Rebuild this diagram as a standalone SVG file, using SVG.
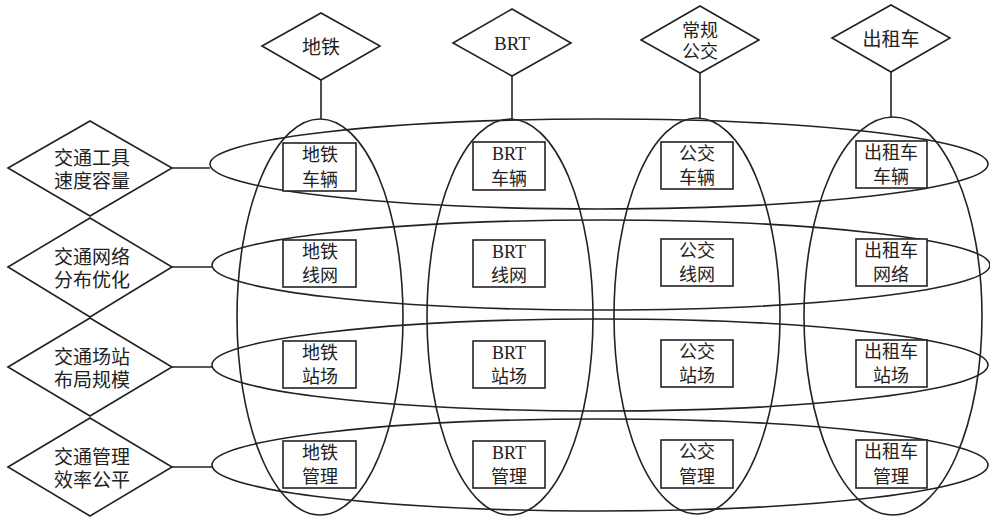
<svg xmlns="http://www.w3.org/2000/svg" width="990" height="518" viewBox="0 0 990 518">
<style>
.s{fill:none;stroke:#222;stroke-width:1.6}
.n{fill:#fff;stroke:#222;stroke-width:1.6}
text{font-family:"Liberation Serif","Noto Sans CJK SC",serif;fill:#222;text-anchor:middle;dominant-baseline:central}
.t{font-size:19px}
.b{font-size:18px}
</style>
<rect width="990" height="518" fill="#fff"/>
<g id="groups">
<ellipse class="s" cx="320" cy="317" rx="83" ry="198"/>
<ellipse class="s" cx="510" cy="317" rx="83" ry="198"/>
<ellipse class="s" cx="697" cy="316" rx="83" ry="198"/>
<ellipse class="s" cx="893" cy="316" rx="89" ry="199"/>
<ellipse class="s" cx="599" cy="164" rx="389" ry="45"/>
<ellipse class="s" cx="601" cy="265" rx="389" ry="45"/>
<ellipse class="s" cx="600" cy="365" rx="388" ry="46"/>
<ellipse class="s" cx="600" cy="465" rx="388" ry="46"/>
</g>
<g id="connectors">
<line class="s" x1="321" y1="80" x2="321" y2="119"/>
<line class="s" x1="512" y1="76" x2="512" y2="119"/>
<line class="s" x1="700" y1="73" x2="700" y2="118"/>
<line class="s" x1="891" y1="72" x2="891" y2="117"/>
<line class="s" x1="172" y1="168" x2="210" y2="168"/>
<line class="s" x1="172" y1="267" x2="212" y2="267"/>
<line class="s" x1="172" y1="367" x2="212" y2="367"/>
<line class="s" x1="172" y1="467" x2="212" y2="467"/>
</g>
<g id="top-subway"><polygon class="n" points="262,46 321,13 380,46 321,80"/><text class="t" x="321" y="47">地铁</text></g>
<g id="top-brt"><polygon class="n" points="453,43 512,9 571,43 512,76"/><text class="t" x="512" y="43">BRT</text></g>
<g id="top-bus"><polygon class="n" points="641,40 700,6 759,40 700,73"/><text class="b" x="700" y="31">常规</text><text class="b" x="700" y="52">公交</text></g>
<g id="top-taxi"><polygon class="n" points="832,38 891,5 950,38 891,72"/><text class="t" x="891" y="39">出租车</text></g>
<g id="left-vehicle"><polygon class="n" points="8,168 90,121 172,168 90,216"/><text class="t" x="92" y="158">交通工具</text><text class="t" x="92" y="181">速度容量</text></g>
<g id="left-network"><polygon class="n" points="8,267 90,218 172,267 90,317"/><text class="t" x="92" y="257">交通网络</text><text class="t" x="92" y="280">分布优化</text></g>
<g id="left-station"><polygon class="n" points="8,367 90,318 172,367 90,416"/><text class="t" x="92" y="357">交通场站</text><text class="t" x="92" y="380">布局规模</text></g>
<g id="left-manage"><polygon class="n" points="8,467 90,418 172,467 90,516"/><text class="t" x="92" y="457">交通管理</text><text class="t" x="92" y="480">效率公平</text></g>
<g id="subway-vehicle"><rect class="n" x="283" y="143" width="73" height="48"/><text class="b" x="320" y="155">地铁</text><text class="b" x="320" y="180">车辆</text></g>
<g id="subway-network"><rect class="n" x="283" y="240" width="73" height="47"/><text class="b" x="320" y="252">地铁</text><text class="b" x="320" y="276">线网</text></g>
<g id="subway-station"><rect class="n" x="283" y="341" width="73" height="47"/><text class="b" x="320" y="353">地铁</text><text class="b" x="320" y="377">站场</text></g>
<g id="subway-manage"><rect class="n" x="283" y="441" width="73" height="47"/><text class="b" x="320" y="453">地铁</text><text class="b" x="320" y="477">管理</text></g>
<g id="brt-vehicle"><rect class="n" x="473" y="142" width="72" height="48"/><text class="b" x="509" y="154">BRT</text><text class="b" x="509" y="179">车辆</text></g>
<g id="brt-network"><rect class="n" x="473" y="240" width="72" height="47"/><text class="b" x="509" y="252">BRT</text><text class="b" x="509" y="276">线网</text></g>
<g id="brt-station"><rect class="n" x="473" y="341" width="72" height="47"/><text class="b" x="509" y="353">BRT</text><text class="b" x="509" y="377">站场</text></g>
<g id="brt-manage"><rect class="n" x="473" y="441" width="72" height="47"/><text class="b" x="509" y="453">BRT</text><text class="b" x="509" y="477">管理</text></g>
<g id="bus-vehicle"><rect class="n" x="661" y="142" width="72" height="47"/><text class="b" x="697" y="154">公交</text><text class="b" x="697" y="178">车辆</text></g>
<g id="bus-network"><rect class="n" x="661" y="239" width="72" height="47"/><text class="b" x="697" y="251">公交</text><text class="b" x="697" y="275">线网</text></g>
<g id="bus-station"><rect class="n" x="661" y="340" width="72" height="47"/><text class="b" x="697" y="352">公交</text><text class="b" x="697" y="376">站场</text></g>
<g id="bus-manage"><rect class="n" x="661" y="440" width="72" height="48"/><text class="b" x="697" y="452">公交</text><text class="b" x="697" y="477">管理</text></g>
<g id="taxi-vehicle"><rect class="n" x="856" y="141" width="71" height="47"/><text class="b" x="891" y="153">出租车</text><text class="b" x="891" y="177">车辆</text></g>
<g id="taxi-network"><rect class="n" x="856" y="239" width="71" height="47"/><text class="b" x="891" y="251">出租车</text><text class="b" x="891" y="275">网络</text></g>
<g id="taxi-station"><rect class="n" x="856" y="340" width="71" height="47"/><text class="b" x="891" y="352">出租车</text><text class="b" x="891" y="376">站场</text></g>
<g id="taxi-manage"><rect class="n" x="856" y="440" width="71" height="48"/><text class="b" x="891" y="452">出租车</text><text class="b" x="891" y="477">管理</text></g>
</svg>
